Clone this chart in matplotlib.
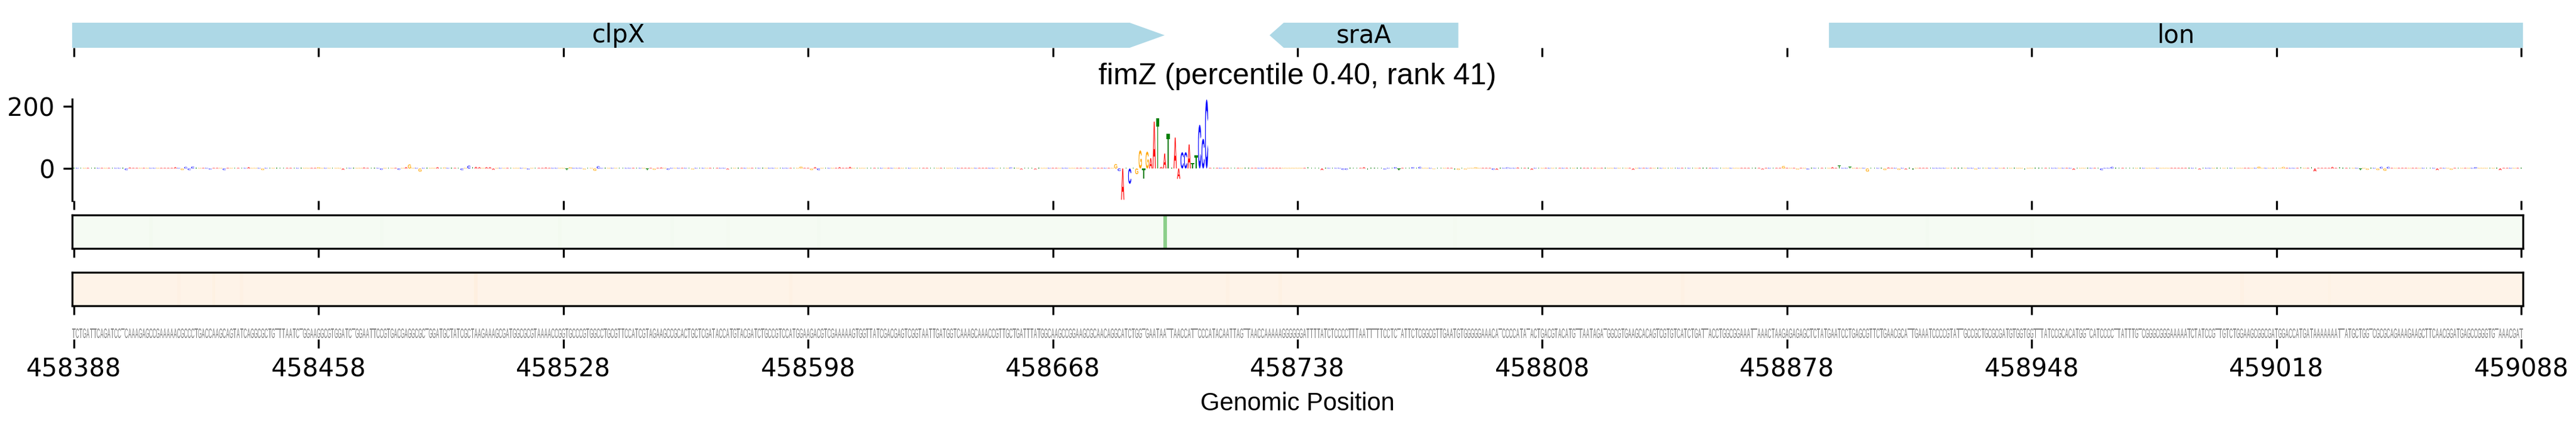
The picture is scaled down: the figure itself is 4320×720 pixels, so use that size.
import numpy as np
import matplotlib
matplotlib.use("Agg")
import matplotlib.pyplot as plt
import matplotlib.transforms as mtransforms
from matplotlib.patches import PathPatch, Polygon
from matplotlib.textpath import TextPath
from matplotlib.font_manager import FontProperties

START = 458388
END = 459088
XTICKS = list(range(START, END + 1, 70))
TITLE = "fimZ (percentile 0.40, rank 41)"

# reference sequence of the window (one base per position)
SEQ_PARTS = [
    "TCTGATTCAGATCCTCAAAGAGCCGAAAAACGCCCTGACCAAGCAGTATCAGGCGCTGTT",
    "TAATCTGGAAGGCGTGGATCTGGAATTCCGTGACGAGGCGCTGGATGCTATCGCTAAGAA",
    "AGCGATGGCGCGTAAAACCGGTGCCCGTGGCCTGCGTTCCATCGTAGAAGCCGCACTGCT",
    "CGATACCATGTACGATCTGCCGTCCATGGAAGACGTCGAAAAAGTGGTTATC",
    "GACGAGTCGGTAATTGATGGTCAAAGCAAACCGTTGCTGATTTATGGCAAGCCGGAAGCG",
    "CAACAGGCATCTGGTGAATAATTAACCATTCCCATACAATTAGTTAACCAAAAAGGG",
    "GGGATTTTATCTCCCCTTTAATTTTTCCTCTATTCTCGGCGTTGAATGTGGGGGAAACAT",
    "CCCCATATACTGACGTACATGTTAATAGATGGCGTGAAGCACAGTCGTGTCATCTGAT",
    "TACCTGGCGGAAATTAAACTAAGAGAGAGCTCTATGAATCCTGAGCGTTCTGAACGCATT",
    "GAAATCCCCGTATTGCCGCTGCGCGATGTGGTGGTTTATCCGCACATGGTCATCC",
    "CCTTATTTGTCGGGCGGGAAAAATCTATCCGTTGTCTGGAAGCGGCGATGGACCATGATA",
    "AAAAAATTATGCTGGTCGCGCAGAAAGAAGCTTCAACGGATGAGCCGGGTGTAAACGAT",
]
SEQUENCE = "".join(SEQ_PARTS)

# genes overlapping the window
GENE_NAMES = ["clpX", "sraA", "lon"]
GENE_STARTS = [457426, 458730, 458890]
GENE_ENDS = [458700, 458784, 461244]
GENE_STRANDS = ["+", "-", "+"]

# attribution scores (offset from START -> score)
PEAK_SCORES = {298: 14, 299: -8, 300: -100, 301: 3, 302: -49, 303: 3, 304: -18,
               305: 58, 306: -33, 307: 54, 308: 33, 309: 150, 310: 160, 311: 5,
               312: 48, 313: 111, 314: 3, 315: 99, 316: -33, 317: 52, 318: 52,
               319: 77, 320: 17, 321: 42, 322: 140, 323: 95, 324: 221}
BG_SCORES = {15: -5, 16: 3, 29: 4, 31: -5, 32: 5, 33: -5, 34: 6, 39: -3, 43: -5,
             46: 2, 48: 3, 50: 4, 54: -5, 58: 3, 70: 4, 77: -4, 83: 3, 86: 3,
             88: -4, 93: -4, 95: 4, 96: 13, 99: -10, 104: 4, 105: 3, 106: 3,
             111: -5, 113: 9, 114: 4, 115: 5, 116: 4, 118: 4, 119: 4, 120: -4,
             130: -3, 135: 3, 141: -5, 142: 4, 146: -3, 149: -7, 150: 7, 164: -5,
             166: -4, 168: 3, 170: -4, 177: -3, 187: -3, 208: 6, 211: -5, 212: 4,
             213: -5, 219: 4, 222: 5, 224: 3, 239: 2, 268: 3, 271: -3, 275: -3,
             353: 4, 357: -5, 363: -4, 364: -4, 369: 4, 370: -4, 372: 3, 375: -3,
             378: 4, 379: -5, 383: 4, 385: 5, 389: -2, 395: -4, 396: -4, 398: -3,
             401: 4, 403: 2, 406: -4, 407: -4, 408: 3, 410: 3, 413: 3, 417: -4,
             446: -4, 483: -3, 489: 8, 493: -3, 496: -3, 503: 4, 505: 10, 508: 6,
             513: -10, 514: 3, 518: -5, 519: 3, 522: -4, 524: -3, 526: -3,
             544: -3, 558: -3, 572: -4, 580: -5, 583: 5, 608: -3, 625: 6, 632: 5,
             637: 4, 640: 5, 641: -9, 646: 5, 648: 4, 654: -5, 656: -4, 659: -5,
             660: 5, 661: -7, 662: 5, 673: 3, 676: -5, 680: -4, 687: 4, 694: -5}
BG_LEVEL = 2.0

# the two heat tracks (offset -> value on a 0..1 scale), near zero elsewhere
TRACK1_VALUES = {22: 0.03, 88: 0.025, 139: 0.03, 171: 0.025, 187: 0.02, 213: 0.025,
                 312: 0.43, 395: 0.02, 530: 0.025, 560: 0.02}
TRACK1_LEVEL = 0.012
TRACK2_VALUES = {30: 0.03, 40: 0.035, 48: 0.03, 115: 0.05, 205: 0.03, 330: 0.03,
                 345: 0.035, 460: 0.03, 620: 0.03, 645: 0.025}
TRACK2_LEVEL = 0.015

BASE_COLORS = {"A": "red", "C": "blue", "G": "orange", "T": "green"}
LOGO_FONT = FontProperties(family="Liberation Sans", weight="bold")
SEQ_FONT = FontProperties(family="Liberation Sans")
_paths = {}


def draw_letter(ax, ch, x, y0, h, w, color, prop=LOGO_FONT):
    key = (ch, prop.get_weight())
    if key not in _paths:
        _paths[key] = TextPath((0, 0), ch, size=1, prop=prop)
    p = _paths[key]
    ext = p.get_extents()
    t = (mtransforms.Affine2D()
         .translate(-ext.x0, -ext.y0)
         .scale(w / ext.width, h / ext.height)
         .translate(x - w / 2, y0))
    ax.add_patch(PathPatch(t.transform_path(p), fc=color, ec="none", lw=0))


positions = START + np.arange(len(SEQUENCE))
scores = np.full(len(SEQUENCE), BG_LEVEL)
for k, v in BG_SCORES.items():
    scores[k] = v
for k, v in PEAK_SCORES.items():
    scores[k] = v

track1 = np.full(len(SEQUENCE), TRACK1_LEVEL)
for k, v in TRACK1_VALUES.items():
    track1[k] = v
track2 = np.full(len(SEQUENCE), TRACK2_LEVEL)
for k, v in TRACK2_VALUES.items():
    track2[k] = v

fig = plt.figure(figsize=(14.4, 2.4), dpi=300)
L, W = 0.0280, 0.9514
ax_gene = fig.add_axes([L, 0.8889, W, 0.0583])
ax_logo = fig.add_axes([L, 0.5333, W, 0.2361])
ax_t1 = fig.add_axes([L, 0.4222, W, 0.0778])
ax_t2 = fig.add_axes([L, 0.2889, W, 0.0778])
ax_seq = fig.add_axes([L, 0.2111, W, 0.0278])

xlim = (START - 0.5, END + 0.5)
for ax in [ax_gene, ax_logo, ax_t1, ax_t2, ax_seq]:
    ax.set_xlim(xlim)
    ax.set_xticks(XTICKS)
    ax.tick_params(axis="x", labelbottom=False)

# gene track
ax_gene.set_ylim(0, 1)
for name, s, e, strand in zip(GENE_NAMES, GENE_STARTS, GENE_ENDS, GENE_STRANDS):
    head = min(10.0, 0.075 * (e - s))
    if strand == "+":
        pts = [(s, 0), (e - head, 0), (e, 0.5), (e - head, 1), (s, 1)]
    else:
        pts = [(e, 0), (s + head, 0), (s, 0.5), (s + head, 1), (e, 1)]
    ax_gene.add_patch(Polygon(pts, closed=True, fc="lightblue", ec="none"))
    xc = (max(s, xlim[0]) + min(e, xlim[1])) / 2
    ax_gene.text(xc, 0.5, name, ha="center", va="center", fontsize=10)
for sp in ax_gene.spines.values():
    sp.set_visible(False)
ax_gene.set_yticks([])

# attribution logo
for x, ch, v in zip(positions, SEQUENCE, scores):
    if v >= 0:
        draw_letter(ax_logo, ch, x, 0, v, 0.9, BASE_COLORS[ch])
    else:
        draw_letter(ax_logo, ch, x, v, -v, 0.9, BASE_COLORS[ch])
ax_logo.set_ylim(-103, 222)
ax_logo.set_yticks([0, 200])
ax_logo.tick_params(axis="y", labelsize=10)
for k in ["top", "right", "bottom"]:
    ax_logo.spines[k].set_visible(False)
ax_logo.set_title(TITLE, fontsize=12, family="Liberation Sans")

# heat tracks
ax_t1.imshow(track1[None, :], aspect="auto", cmap="Greens", vmin=0, vmax=1,
             extent=(xlim[0], xlim[1], 0, 1), interpolation="nearest")
ax_t2.imshow(track2[None, :], aspect="auto", cmap="Oranges", vmin=0, vmax=1,
             extent=(xlim[0], xlim[1], 0, 1), interpolation="nearest")
for ax in [ax_t1, ax_t2]:
    ax.set_yticks([])
    ax.set_xlim(xlim)

# sequence row
ax_seq.set_ylim(0, 1)
for x, ch in zip(positions, SEQUENCE):
    draw_letter(ax_seq, ch, x, 0.1, 0.8, 0.9, "gray", prop=SEQ_FONT)
for sp in ax_seq.spines.values():
    sp.set_visible(False)
ax_seq.set_yticks([])
ax_seq.tick_params(axis="x", labelbottom=True, labelsize=10)
ax_seq.set_xticklabels([str(t) for t in XTICKS])
ax_seq.set_xlabel("Genomic Position", fontsize=10, family="Liberation Sans")

fig.savefig("out.png", dpi=300)
